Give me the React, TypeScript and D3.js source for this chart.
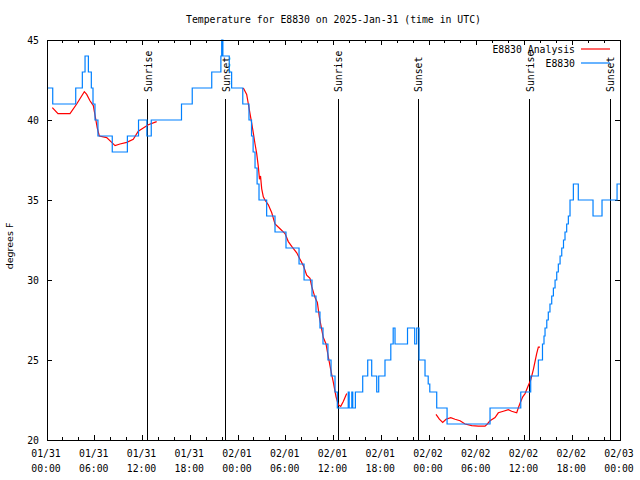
import React from "react";
import * as d3 from "d3";

const TITLE = "Temperature for E8830 on 2025-Jan-31 (time in UTC)";
const Y_LABEL = "degrees F";

// x positions are hours since 2025-01-31 00:00 UTC
const xTickHours = [0, 6, 12, 18, 24, 30, 36, 42, 48, 54, 60, 66, 72];
const xTickDates = ["01/31", "01/31", "01/31", "01/31", "02/01", "02/01", "02/01", "02/01", "02/02", "02/02", "02/02", "02/02", "02/03"];
const xTickTimes = ["00:00", "06:00", "12:00", "18:00", "00:00", "06:00", "12:00", "18:00", "00:00", "06:00", "12:00", "18:00", "00:00"];
const yTicks = [20, 25, 30, 35, 40, 45];

const sunriseHours = [12.69, 36.57, 60.69];
const sunsetHours = [22.49, 46.62, 70.75];

// E8830 observations (step series)
const obsHours = [
  0, 0.72, 3.61, 4.44, 4.78, 5.2, 5.57, 5.78, 6.03, 6.4, 8.2, 10.1, 11.5, 12.55, 13.1, 16.9, 18.25, 20.7,
  21.85, 21.95, 22.1, 22.9, 23.2, 24.6, 25.38, 25.7, 25.9, 26.14, 26.4, 26.64, 27.6, 28.65, 30.03, 31.67,
  32.3, 33.3, 33.8, 34.3, 34.68, 35.3, 35.69, 36.19, 36.48, 37.85, 37.97, 38.3, 38.42, 38.75,
  39.67, 40.3, 40.8, 41.43, 41.68, 42.47, 43.2, 43.5, 43.73, 45.3, 46.2, 46.45, 46.75, 47.5, 47.9, 48.1,
  48.97, 50.27, 55.67, 59.53, 60.78, 61.74, 62.26, 62.45, 62.58, 62.8, 62.99, 63.2, 63.42, 63.63, 63.84,
  64.05, 64.25, 64.47, 64.68, 64.9, 65.09, 65.3, 65.51, 65.72, 66.14, 66.76, 68.61, 69.74, 71.63, 72,
];
const obsTemps = [
  42, 41, 42, 43, 44, 43, 42, 41, 40, 39, 38, 39, 40, 39, 40, 41, 42, 43,
  44, 45, 44, 43, 42, 41, 40, 39, 38, 37, 36, 35, 34, 33, 32, 31,
  30, 29, 28, 27, 26, 25, 24, 23, 22, 23, 22, 23, 22, 23,
  24, 25, 24, 23, 24, 25, 26, 27, 26, 27, 26, 27, 25, 24, 23.5, 23,
  22, 21, 22, 23, 24, 25, 26, 26.5, 27, 27.5, 28, 28.5, 29, 29.5, 30,
  30.5, 31, 31.5, 32, 32.5, 33, 33.5, 34, 35, 36, 35, 34, 35, 36, 36,
];

// E8830 Analysis (null = gap)
const anaHours = [
  0.67, 1.38, 2.89, 3.73, 4.69, 4.99, 5.4, 5.82, 6.07, 6.32, 6.57, 7.5, 8.13, 8.55, 9.17, 10.02, 10.84, 11.47,
  12.1, 12.73, 13.78, 18,
  24.67, 25.09, 25.3, 25.51, 25.72, 25.92, 26.14, 26.35, 26.55, 26.7, 26.83, 26.98, 27.18, 27.39, 27.81, 28.24,
  28.65, 29.28, 29.91, 30.32, 30.75, 31.38, 31.79, 32.21, 32.63, 33.05, 33.26, 33.68, 33.97, 34.22, 34.52,
  34.72, 35.06, 35.35, 35.65, 35.98, 36.32, 36.61, 36.91, 37.23, 37.66, 42,
  48.88, 49.3, 49.72, 50.14, 50.73, 51.27, 51.9, 52.53, 53.37, 54.2, 55.04, 55.33, 55.67, 56.3, 56.71, 57.34,
  57.97, 58.39, 59.02, 59.22, 59.44, 59.78, 60.07, 60.48, 60.78, 61.11, 61.32, 61.53, 61.74, 61.95,
];
const anaTemps: (number | null)[] = [
  40.77, 40.4, 40.4, 41.0, 41.77, 41.6, 41.2, 40.9, 40.2, 39.5, 39.0, 38.9, 38.6, 38.4, 38.5, 38.6, 38.8, 39.3,
  39.5, 39.7, 39.9, null,
  42.0, 41.6, 41.0, 40.4, 39.8, 39.2, 38.5, 37.9, 37.1, 36.3, 36.5, 35.7, 35.2, 35.0, 34.7, 34.2,
  33.5, 33.2, 32.9, 32.4, 32.1, 31.7, 31.3, 30.9, 30.3, 30.1, 29.6, 28.9, 28.6, 27.7, 26.9,
  26.4, 26.0, 25.2, 24.4, 23.6, 22.7, 22.2, 22.1, 22.4, 22.9, null,
  21.6, 21.3, 21.1, 21.3, 21.4, 21.3, 21.2, 21.0, 20.9, 20.87, 20.87, 21.0, 21.2, 21.4, 21.7, 21.8,
  21.9, 21.8, 21.7, 22.0, 22.3, 22.7, 22.9, 23.4, 23.75, 24.4, 24.9, 25.4, 25.8, 25.8,
];

const W = 640;
const H = 480;
const L = 47;
const R = 620;
const T = 40;
const B = 440;
const MONO = "'DejaVu Sans Mono', monospace";

export default function App() {
  const x = d3.scaleLinear().domain([0, 72]).range([L, R]);
  const y = d3.scaleLinear().domain([20, 45]).range([B, T]);

  const obs = obsHours.map((h, i) => [h, obsTemps[i]] as [number, number]);
  const ana = anaHours.map((h, i) => [h, anaTemps[i]] as [number, number | null]);

  const obsLine = d3
    .line<[number, number]>()
    .x((d) => x(d[0]))
    .y((d) => y(d[1]))
    .curve(d3.curveStepAfter);
  const anaLine = d3
    .line<[number, number | null]>()
    .defined((d) => d[1] !== null)
    .x((d) => x(d[0]))
    .y((d) => y(d[1] as number));

  const minorTicks = d3.range(0, 73, 2).filter((h) => h % 6 !== 0);
  const sunTop = 99;

  return (
    <svg width={W} height={H} style={{ position: "absolute", left: 0, top: 0, background: "#fff" }}>
      <rect x={0} y={0} width={W} height={H} fill="#fff" />
      <text x={(L + R) / 2} y={23} textAnchor="middle" fontFamily={MONO} fontSize={9.8} fill="#000">
        {TITLE}
      </text>
      <text
        transform={`translate(13,246) rotate(-90)`}
        textAnchor="middle"
        fontFamily="'DejaVu Sans', sans-serif"
        fontSize={9.5}
        fill="#000"
      >
        {Y_LABEL}
      </text>

      {/* y ticks */}
      {yTicks.map((t) => (
        <g key={"y" + t}>
          <line x1={L} x2={L + 5} y1={y(t)} y2={y(t)} stroke="#000" shapeRendering="crispEdges" />
          <line x1={R} x2={R - 5} y1={y(t)} y2={y(t)} stroke="#000" shapeRendering="crispEdges" />
          <text x={L - 8} y={y(t) + 4} textAnchor="end" fontFamily={MONO} fontSize={9.8} fill="#000">
            {t}
          </text>
        </g>
      ))}

      {/* x ticks */}
      {xTickHours.map((h, i) => (
        <g key={"x" + h}>
          <line x1={x(h)} x2={x(h)} y1={B} y2={B - 5} stroke="#000" shapeRendering="crispEdges" />
          <line x1={x(h)} x2={x(h)} y1={T} y2={T + 5} stroke="#000" shapeRendering="crispEdges" />
          <text x={x(h) - 1} y={457} textAnchor="middle" fontFamily={MONO} fontSize={9.8} fill="#000">
            {xTickDates[i]}
          </text>
          <text x={x(h) - 1} y={472} textAnchor="middle" fontFamily={MONO} fontSize={9.8} fill="#000">
            {xTickTimes[i]}
          </text>
        </g>
      ))}
      {minorTicks.map((h) => (
        <g key={"m" + h}>
          <line x1={x(h)} x2={x(h)} y1={B} y2={B - 3} stroke="#000" shapeRendering="crispEdges" />
          <line x1={x(h)} x2={x(h)} y1={T} y2={T + 3} stroke="#000" shapeRendering="crispEdges" />
        </g>
      ))}

      {/* sun events */}
      {sunriseHours.map((h) => (
        <g key={"sr" + h}>
          <line x1={x(h)} x2={x(h)} y1={sunTop} y2={B} stroke="#000" shapeRendering="crispEdges" />
          <text
            transform={`translate(${x(h) + 4},92) rotate(-90)`}
            fontFamily={MONO}
            fontSize={9.8}
            fill="#000"
          >
            Sunrise
          </text>
        </g>
      ))}
      {sunsetHours.map((h) => (
        <g key={"ss" + h}>
          <line x1={x(h)} x2={x(h)} y1={sunTop} y2={B} stroke="#000" shapeRendering="crispEdges" />
          <text
            transform={`translate(${x(h) + 4},92) rotate(-90)`}
            fontFamily={MONO}
            fontSize={9.8}
            fill="#000"
          >
            Sunset
          </text>
        </g>
      ))}

      {/* series */}
      <path d={anaLine(ana) ?? ""} fill="none" stroke="#ff0000" strokeWidth={1.2} />
      <path d={obsLine(obs) ?? ""} fill="none" stroke="#0080ff" strokeWidth={1.2} />

      {/* legend */}
      <text x={575} y={53} textAnchor="end" fontFamily={MONO} fontSize={9.8} fill="#000">
        E8830 Analysis
      </text>
      <line x1={581} x2={610} y1={49} y2={49} stroke="#ff0000" strokeWidth={1.2} />
      <text x={575} y={67} textAnchor="end" fontFamily={MONO} fontSize={9.8} fill="#000">
        E8830
      </text>
      <line x1={581} x2={610} y1={63} y2={63} stroke="#0080ff" strokeWidth={1.2} />

      {/* frame */}
      <rect x={L} y={T} width={R - L} height={B - T} fill="none" stroke="#000" shapeRendering="crispEdges" />
    </svg>
  );
}
